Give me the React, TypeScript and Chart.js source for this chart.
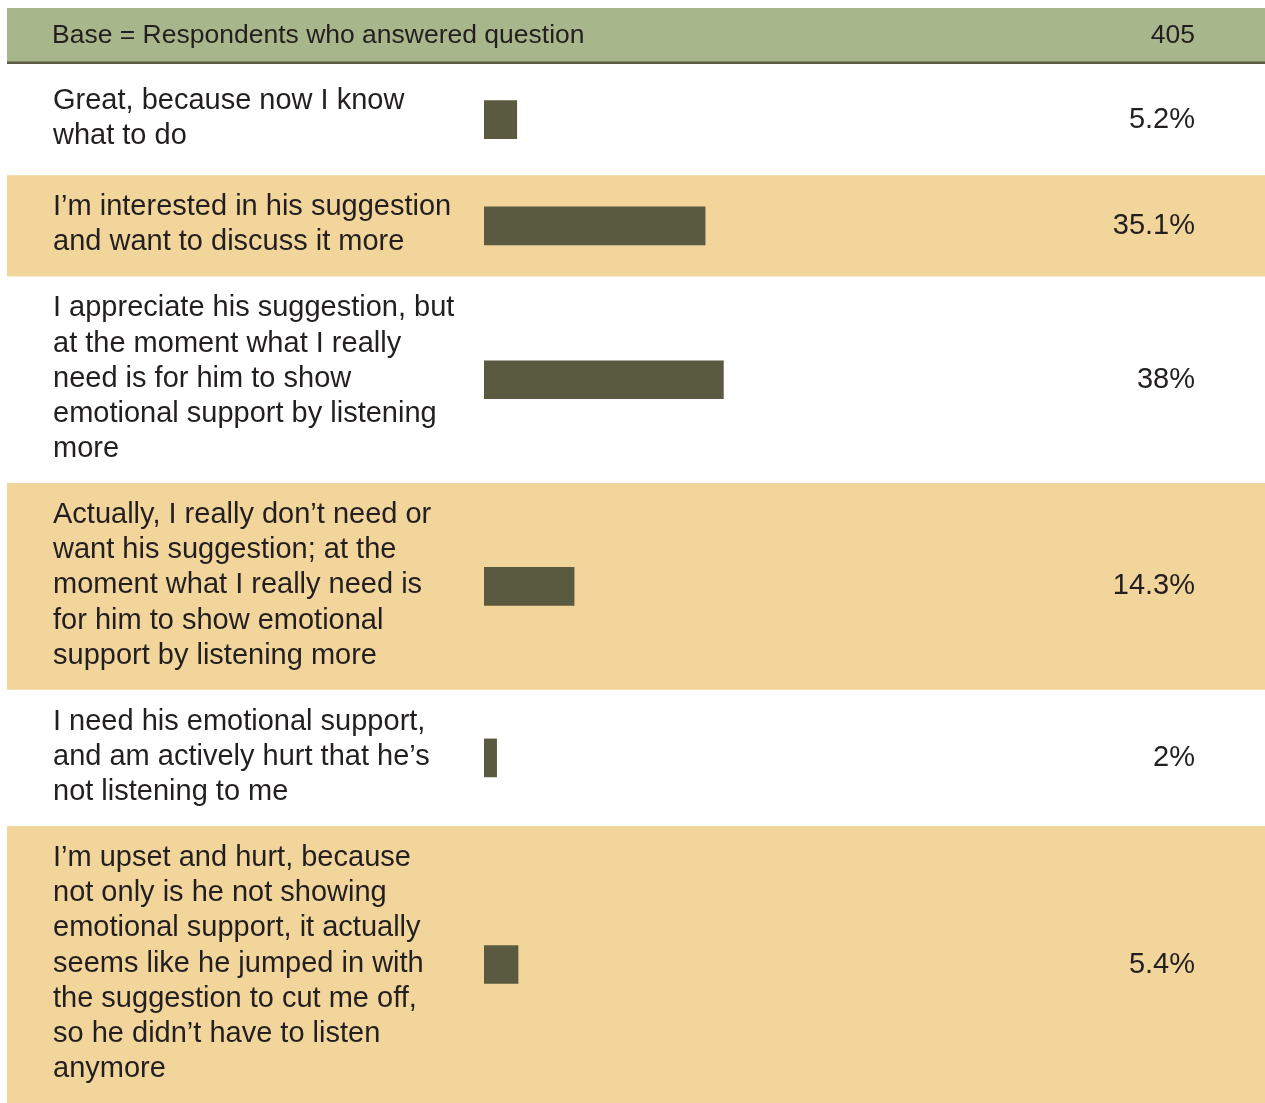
import React, { useEffect, useRef } from "react";
import { Chart, registerables } from "chart.js";

Chart.register(...registerables);

const headerLabel = "Base = Respondents who answered question";
const headerValue = "405";

const categories: string[][] = [
  ["Great, because now I know", "what to do"],
  ["I’m interested in his suggestion", "and want to discuss it more"],
  [
    "I appreciate his suggestion, but",
    "at the moment what I really",
    "need is for him to show",
    "emotional support by listening",
    "more",
  ],
  [
    "Actually, I really don’t need or",
    "want his suggestion; at the",
    "moment what I really need is",
    "for him to show emotional",
    "support by listening more",
  ],
  ["I need his emotional support,", "and am actively hurt that he’s", "not listening to me"],
  [
    "I’m upset and hurt, because",
    "not only is he not showing",
    "emotional support, it actually",
    "seems like he jumped in with",
    "the suggestion to cut me off,",
    "so he didn’t have to listen",
    "anymore",
  ],
];

const values: number[] = [5.2, 35.1, 38, 14.3, 2, 5.4];
const valueLabels: string[] = ["5.2%", "35.1%", "38%", "14.3%", "2%", "5.4%"];

const W = 1265;
const H = 1103;
const LINE = 35.2;
const PAD = 31;
const FIRST_EXTRA = 10;
const FONT = '"Liberation Sans", Arial, Helvetica, sans-serif';
const TEXT = "#231f20";

export default function App() {
  const ref = useRef<HTMLCanvasElement | null>(null);

  useEffect(() => {
    if (!ref.current) return;
    const heights = categories.map((c, i) => c.length * LINE + PAD + (i === 0 ? FIRST_EXTRA : 0));
    const starts: number[] = [];
    let acc = 0;
    heights.forEach((h) => {
      starts.push(acc);
      acc += h;
    });
    const total = acc;
    const centers = heights.map((h, i) => starts[i] + h / 2);

    const tablePlugin = {
      id: "tablePlugin",
      beforeDraw(chart: any) {
        const ctx = chart.ctx;
        const y = chart.scales.y;
        ctx.save();
        ctx.fillStyle = "#ffffff";
        ctx.fillRect(0, 0, W, H);
        categories.forEach((_, i) => {
          const top = y.getPixelForValue(starts[i]);
          const bot = y.getPixelForValue(starts[i] + heights[i]);
          if (i % 2 === 1) {
            ctx.fillStyle = "#f2d59a";
            ctx.fillRect(7, top, W - 7, bot - top);
          }
        });
        ctx.fillStyle = "#a7b78b";
        ctx.fillRect(7, 8, W - 7, 54);
        ctx.fillStyle = "#5a5a42";
        ctx.fillRect(7, 61.5, W - 7, 2.5);
        ctx.fillStyle = TEXT;
        ctx.font = "26.5px " + FONT;
        ctx.textBaseline = "middle";
        ctx.textAlign = "left";
        ctx.fillText(headerLabel, 52, 36);
        ctx.textAlign = "right";
        ctx.fillText(headerValue, 1195, 36);
        ctx.restore();
      },
      afterDatasetsDraw(chart: any) {
        const ctx = chart.ctx;
        const y = chart.scales.y;
        ctx.save();
        ctx.fillStyle = TEXT;
        ctx.font = "29px " + FONT;
        ctx.textBaseline = "middle";
        categories.forEach((lines, i) => {
          const cy = y.getPixelForValue(centers[i]);
          const n = lines.length;
          ctx.textAlign = "left";
          lines.forEach((ln, k) => {
            const ly = cy + (k - (n - 1) / 2) * LINE - 1;
            ctx.fillText(ln, 53, ly);
          });
          ctx.textAlign = "right";
          ctx.fillText(valueLabels[i], 1195, cy);
        });
        ctx.restore();
      },
    };

    const chart = new Chart(ref.current, {
      type: "bar",
      data: {
        datasets: [
          {
            data: values.map((v, i) => ({ x: v, y: centers[i] })),
            backgroundColor: "#5a5a40",
            borderWidth: 0,
            barThickness: 38,
          },
        ],
      },
      options: {
        indexAxis: "y",
        responsive: false,
        animation: false,
        layout: { padding: { left: 484, right: 151, top: 64, bottom: 0 } },
        plugins: { legend: { display: false }, tooltip: { enabled: false } },
        scales: {
          x: { type: "linear", min: 0, max: 100, display: false },
          y: { type: "linear", min: 0, max: total, reverse: true, display: false, offset: false },
        },
      },
      plugins: [tablePlugin],
    } as any);
    return () => chart.destroy();
  }, []);

  return (
    <div style={{ position: "absolute", left: 0, top: 0, width: W, height: H }}>
      <canvas ref={ref} width={W} height={H} style={{ width: W, height: H, display: "block" }} />
    </div>
  );
}
